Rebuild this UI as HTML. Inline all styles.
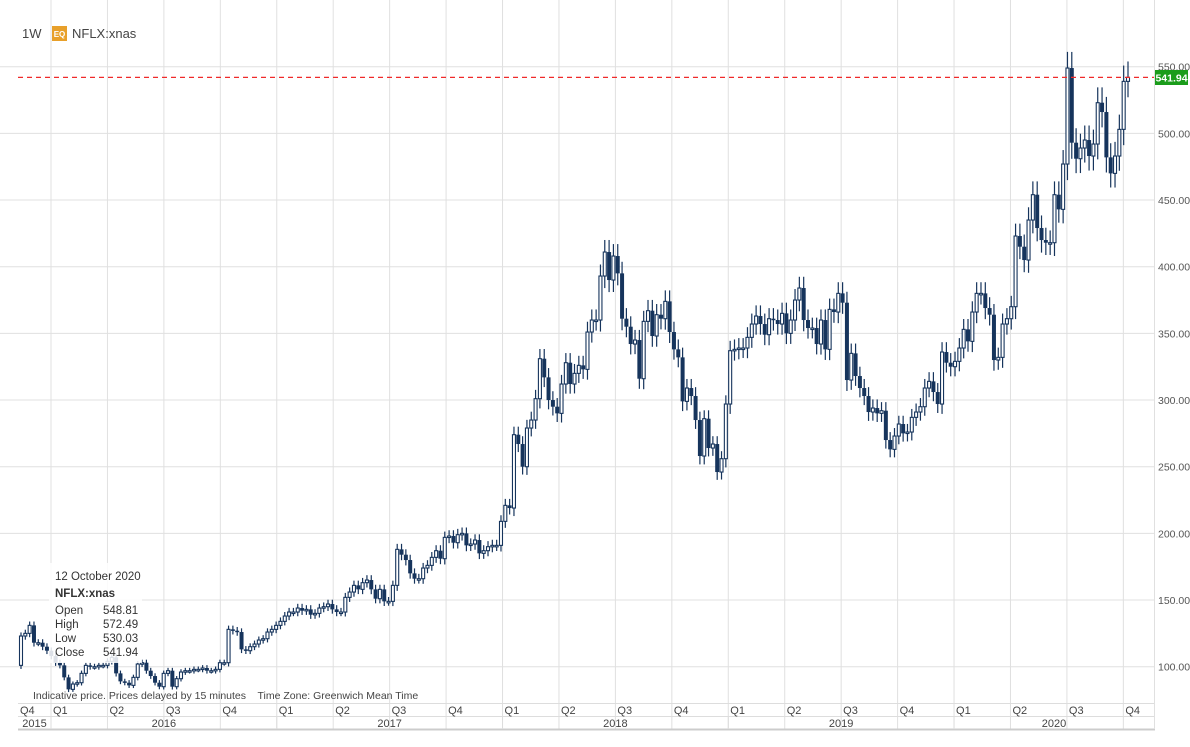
<!DOCTYPE html>
<html><head><meta charset="utf-8">
<style>
html,body{margin:0;padding:0;background:#fff;}
body{width:1190px;height:742px;overflow:hidden;font-family:"Liberation Sans",sans-serif;}
svg text{font-family:"Liberation Sans",sans-serif;}
</style></head>
<body>
<svg id="chart" width="1190" height="742" viewBox="0 0 1190 742" xmlns="http://www.w3.org/2000/svg">
  <g id="grid"></g>
  <g id="candles"></g>
  <line x1="18" y1="77.4" x2="1155" y2="77.4" stroke="#f02a2a" stroke-width="1.2" stroke-dasharray="5,4"/>
  <g id="yaxis"></g>
  <rect x="1155" y="70" width="33" height="15" fill="#1a9c1a"/>
  <text x="1171.5" y="81.5" font-size="10.5" font-weight="bold" fill="#fff" text-anchor="middle">541.94</text>
  <g id="xaxis"></g>
  <text x="22" y="38" font-size="13" fill="#444">1W</text>
  <rect x="52" y="26" width="15" height="15" fill="#e8a02a"/>
  <text x="59.5" y="37" font-size="8" font-weight="bold" fill="#fff" text-anchor="middle">EQ</text>
  <text x="72" y="38" font-size="13" fill="#444">NFLX:xnas</text>
  <g>
    <rect x="49" y="563" width="93" height="100" fill="#fff" fill-opacity="0.85"/>
    <text x="55" y="580" font-size="11.5" fill="#333">12 October 2020</text>
    <text x="55" y="597" font-size="11.5" font-weight="bold" fill="#333">NFLX:xnas</text>
    <text x="55" y="614" font-size="11.5" fill="#333">Open</text><text x="103" y="614" font-size="11.5" fill="#333">548.81</text>
    <text x="55" y="628" font-size="11.5" fill="#333">High</text><text x="103" y="628" font-size="11.5" fill="#333">572.49</text>
    <text x="55" y="642" font-size="11.5" fill="#333">Low</text><text x="103" y="642" font-size="11.5" fill="#333">530.03</text>
    <text x="55" y="656" font-size="11.5" fill="#333">Close</text><text x="103" y="656" font-size="11.5" fill="#333">541.94</text>
  </g>
  <text x="33" y="699" font-size="10.5" fill="#444">Indicative price. Prices delayed by 15 minutes &#160;&#160; Time Zone: Greenwich Mean Time</text>
</svg>
<script>
const closes = [123,125,131,118,118,115,112,108,103,101,92,83,87,88,95,101,100,100,101,101,104,107,95,89,88,86,92,102,103,97,93,88,85,95,97,85,91,96,97,97,98,98,99,97,97,98,103,103,128,127,126,113,112,115,117,120,121,126,128,
131,134,138,141,141,144,142,143,139,140,144,145,147,143,141,141,152,156,161,158,163,165,158,151,158,149,149,161,188,184,180,170,166,166,174,176,182,187,181,197,198,193,199,200,191,192,195,185,187,190,191,191,209,221,219,274,267,250,279,
285,301,331,317,300,295,290,312,328,312,320,326,323,351,360,360,393,411,390,408,395,361,355,342,345,316,359,367,348,364,361,374,351,338,332,299,309,303,285,258,286,264,267,246,256,297,337,338,339,339,347,
357,363,357,349,361,360,357,365,350,360,375,384,360,354,354,342,360,338,368,366,380,373,315,335,318,309,303,291,294,290,292,270,263,273,282,275,276,287,291,295,309,314,306,297,336,328,325,329,339,353,344,
366,380,380,369,364,330,332,357,361,370,423,415,405,435,454,429,420,418,418,454,443,477,549,493,481,489,495,483,492,523,516,482,470,483,503,539,542];
const firstOpen = 101;
const yTicks = [100,150,200,250,300,350,400,450,500,550];
const quarterLabels = ["Q1","Q2","Q3","Q4","Q1","Q2","Q3","Q4","Q1","Q2","Q3","Q4","Q1","Q2","Q3","Q4","Q1","Q2","Q3","Q4"];
const yearLabels = ["2015","2016","2017","2018","2019","2020"];

const NS="http://www.w3.org/2000/svg";
function yScale(v){return 66.7+(550-v)*1.33333;}
function xScale(i){return 21+i*(1128-21)/(closes.length-1);}
function qx(k){return 51+k*56.44;}
function mk(tag,attrs,parent){const e=document.createElementNS(NS,tag);for(const k in attrs)e.setAttribute(k,attrs[k]);parent.appendChild(e);return e;}

const grid=document.getElementById('grid');
yTicks.forEach(v=>{
  const l=mk('line',{x1:0,x2:1155,y1:yScale(v),y2:yScale(v),stroke:'#e0e0e0','stroke-width':1},grid);
  
  
});
quarterLabels.forEach((q,k)=>{
  const l=mk('line',{x1:qx(k),x2:qx(k),y1:0,y2:729,stroke:'#e0e0e0','stroke-width':1},grid);
  
  
});

const yaxis=document.getElementById('yaxis');
yTicks.forEach(v=>{
  const t=mk('text',{x:1158,y:yScale(v)+4,'font-size':10.5,fill:'#555'},yaxis);
  t.textContent=v.toFixed(2);
  
  
});

const xaxis=document.getElementById('xaxis');
mk('line',{x1:18,x2:1155,y1:703.5,y2:703.5,stroke:'#ddd'},xaxis);
mk('line',{x1:18,x2:1155,y1:716.5,y2:716.5,stroke:'#ddd'},xaxis);
mk('line',{x1:18,x2:1155,y1:729.5,y2:729.5,stroke:'#ccc','stroke-width':2},xaxis);
mk('line',{x1:1154.5,x2:1154.5,y1:0,y2:729,stroke:'#e0e0e0'},xaxis);
const q0=mk('text',{x:20,y:714,'font-size':11,fill:'#444'},xaxis);q0.textContent='Q4';


quarterLabels.forEach((q,k)=>{
  const t=mk('text',{x:qx(k)+2,y:714,'font-size':11,fill:'#444'},xaxis);
  t.textContent=q;
  
  
});
const yb=[18,qx(0),qx(4),qx(8),qx(12),qx(16),1154];
yearLabels.forEach((y,k)=>{
  if(k>0) mk('line',{x1:yb[k],x2:yb[k],y1:716,y2:729,stroke:'#ddd'},xaxis);
  const t=mk('text',{x:(yb[k]+yb[k+1])/2,y:727,'font-size':11,fill:'#444','text-anchor':'middle'},xaxis);
  t.textContent=y;
  
  
});

const cg=document.getElementById('candles');
const col='#16345c';
closes.forEach((c,i)=>{
  const o=i===0?firstOpen:closes[i-1];
  const hi=Math.max(o,c), lo=Math.min(o,c);
  const w=Math.max(1.5,hi*0.022), x=xScale(i);
  const g=mk('g',{},cg);
  
  
  mk('line',{x1:x,x2:x,y1:yScale(hi+w),y2:yScale(lo-w),stroke:col,'stroke-width':1.2},g);
  const top=yScale(hi), h=Math.max(1.5,yScale(lo)-top);
  if(c>=o) mk('rect',{x:x-1.5,y:top,width:3,height:h,fill:'#fff',stroke:col,'stroke-width':1.1},g);
  else mk('rect',{x:x-2,y:top,width:4,height:h,fill:col},g);
});
</script>
</body></html>
